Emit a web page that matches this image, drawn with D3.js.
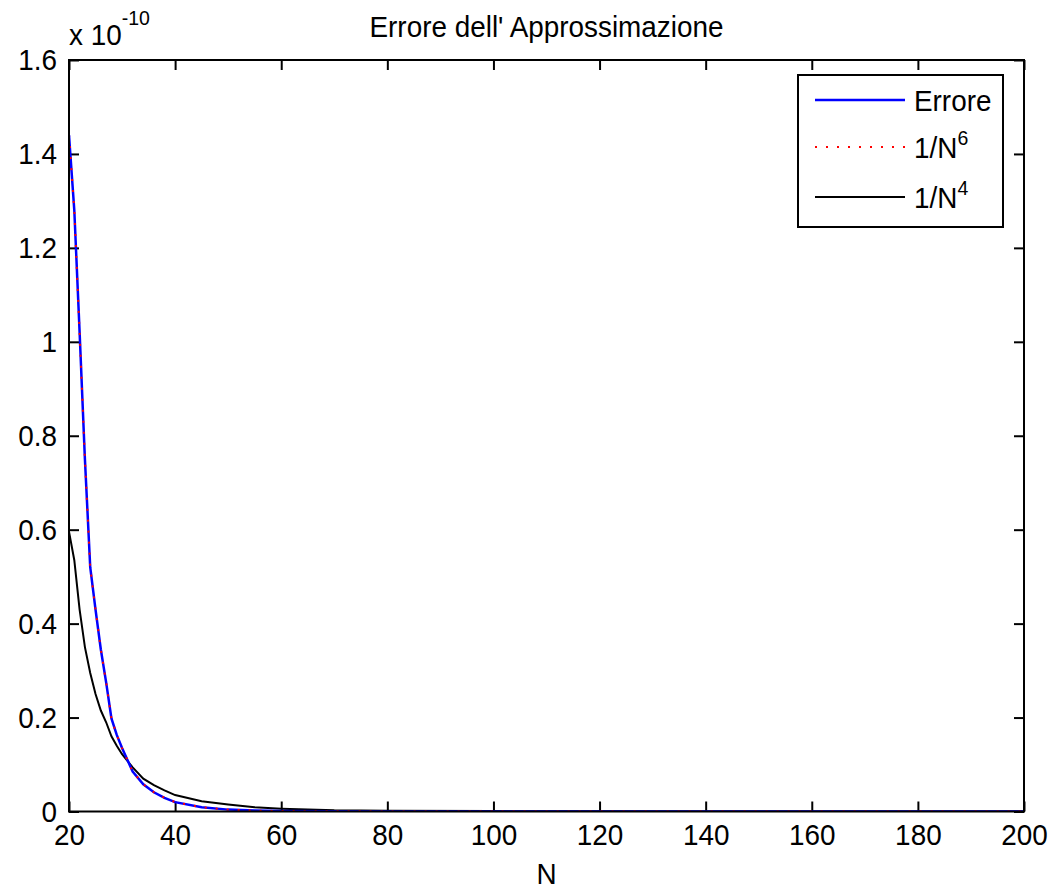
<!DOCTYPE html>
<html>
<head>
<meta charset="utf-8">
<script src="https://cdn.jsdelivr.net/npm/d3@7"></script>
<style>
  html, body { margin: 0; padding: 0; background: #fff; }
  svg text { font-family: "Liberation Sans", Arial, Helvetica, sans-serif; fill: #000; }
</style>
</head>
<body>
<svg id="chart" width="1053" height="889"></svg>
<script>
// ---- data (values in units of 1e-10) ----
const N        = [20, 21, 22, 23, 24, 25, 26, 27, 28, 29, 30, 32, 34, 36, 38, 40, 45, 50, 55, 60, 70, 80, 100, 120, 140, 160, 180, 200];
const errore   = [1.44, 1.28, 1.02, 0.75, 0.52, 0.43, 0.345, 0.275, 0.198, 0.163, 0.135, 0.085, 0.058, 0.041, 0.029, 0.020, 0.009, 0.004, 0.002, 0.001, 0.0004, 0.0002, 0.0001, 0.00005, 0.00003, 0.00002, 0.00001, 0.00001];
const invN6    = [1.44, 1.28, 1.02, 0.75, 0.52, 0.43, 0.345, 0.275, 0.198, 0.163, 0.135, 0.085, 0.058, 0.041, 0.029, 0.020, 0.009, 0.004, 0.002, 0.001, 0.0004, 0.0002, 0.0001, 0.00005, 0.00003, 0.00002, 0.00001, 0.00001];
const invN4    = [0.596, 0.535, 0.43, 0.35, 0.295, 0.25, 0.215, 0.19, 0.16, 0.14, 0.122, 0.094, 0.07, 0.056, 0.045, 0.035, 0.022, 0.015, 0.009, 0.006, 0.0025, 0.0016, 0.0008, 0.0004, 0.0002, 0.00015, 0.0001, 0.00008];
const xTicks   = [20, 40, 60, 80, 100, 120, 140, 160, 180, 200];
const yTicks   = [0, 0.2, 0.4, 0.6, 0.8, 1, 1.2, 1.4, 1.6];
const yLabels  = ["0", "0.2", "0.4", "0.6", "0.8", "1", "1.2", "1.4", "1.6"];
const seriesNames = ["Errore", "1/N", "1/N"];
const seriesSup   = ["", "6", "4"];

const svg = d3.select("#chart");
const L = 69, R = 1024, T = 60, B = 811.5;
const x = d3.scaleLinear().domain([20, 200]).range([L, R]);
const y = d3.scaleLinear().domain([0, 1.6]).range([B, T]);
const FS = 30;

// clip
svg.append("defs").append("clipPath").attr("id", "clip")
  .append("rect").attr("x", L).attr("y", T).attr("width", R - L).attr("height", B - T);

// axes
const ax = svg.append("g").attr("class", "axes");
function styleAxis(g) {
  g.select(".domain").remove();
  g.selectAll(".tick line").attr("stroke", "#000").attr("stroke-width", 2);
  g.selectAll(".tick text").style("font-size", FS + "px");
}
ax.append("g").attr("transform", `translate(0,${B})`)
  .call(d3.axisBottom(x).tickValues(xTicks).tickSize(-10).tickPadding(12).tickFormat(d3.format("d")))
  .call(styleAxis);
ax.append("g").attr("transform", `translate(0,${T})`)
  .call(d3.axisTop(x).tickValues(xTicks).tickSize(-10).tickFormat(""))
  .call(styleAxis);
ax.append("g").attr("transform", `translate(${L},0)`)
  .call(d3.axisLeft(y).tickValues(yTicks).tickSize(-10).tickPadding(12).tickFormat((d, i) => yLabels[i]))
  .call(styleAxis);
ax.append("g").attr("transform", `translate(${R},0)`)
  .call(d3.axisRight(y).tickValues(yTicks).tickSize(-10).tickFormat(""))
  .call(styleAxis);
svg.selectAll(".tick text").attr("fill", "#000");

// series
const line = d3.line().x((d, i) => x(N[i])).y(d => y(d));
const plot = svg.append("g").attr("clip-path", "url(#clip)");
plot.append("path").datum(invN4).attr("d", line).attr("fill", "none")
  .attr("stroke", "#000").attr("stroke-width", 2);
plot.append("path").datum(errore).attr("d", line).attr("fill", "none")
  .attr("stroke", "#0000ff").attr("stroke-width", 2.5);
plot.append("path").datum(invN6).attr("d", line).attr("fill", "none")
  .attr("stroke", "#ff0000").attr("stroke-width", 2).attr("stroke-dasharray", "2,9");

// box
svg.append("rect").attr("x", L).attr("y", T).attr("width", R - L).attr("height", B - T)
  .attr("fill", "none").attr("stroke", "#000").attr("stroke-width", 2);

// title
svg.append("text").attr("x", (L + R) / 2).attr("y", 37).attr("text-anchor", "middle")
  .style("font-size", FS + "px").text("Errore dell' Approssimazione");

// x label
svg.append("text").attr("x", (L + R) / 2).attr("y", 884).attr("text-anchor", "middle")
  .style("font-size", FS + "px").text("N");

// exponent
const ex = svg.append("text").attr("x", 69).attr("y", 45).style("font-size", FS + "px");
ex.append("tspan").text("x 10");
ex.append("tspan").attr("dy", -20).style("font-size", "21px").text("-10");

// legend
const lg = svg.append("g");
lg.append("rect").attr("x", 798).attr("y", 75).attr("width", 205).attr("height", 152)
  .attr("fill", "#fff").attr("stroke", "#000").attr("stroke-width", 2);
const rowsY = [100, 147, 197];
const styles = [
  { stroke: "#0000ff", w: 2.5, dash: null },
  { stroke: "#ff0000", w: 2, dash: "2,9" },
  { stroke: "#000", w: 2, dash: null }
];
rowsY.forEach((ry, i) => {
  lg.append("line").attr("x1", 815).attr("x2", 905).attr("y1", ry).attr("y2", ry)
    .attr("stroke", styles[i].stroke).attr("stroke-width", styles[i].w)
    .attr("stroke-dasharray", styles[i].dash);
  const t = lg.append("text").attr("x", 914).attr("y", ry + 11).style("font-size", FS + "px");
  t.append("tspan").text(seriesNames[i]);
  if (seriesSup[i]) t.append("tspan").attr("dy", -13).style("font-size", "21px").text(seriesSup[i]);
});

// condense glyphs horizontally (the reference font is narrow), anchored at each text's anchor
svg.selectAll("text").each(function () {
  const a = getComputedStyle(this).textAnchor;
  const origin = a === "middle" ? "center" : (a === "end" ? "right" : "left");
  this.style.transformBox = "fill-box";
  this.style.transformOrigin = origin + " center";
  this.style.transform = "scaleX(0.93)";
});
</script>
</body>
</html>
